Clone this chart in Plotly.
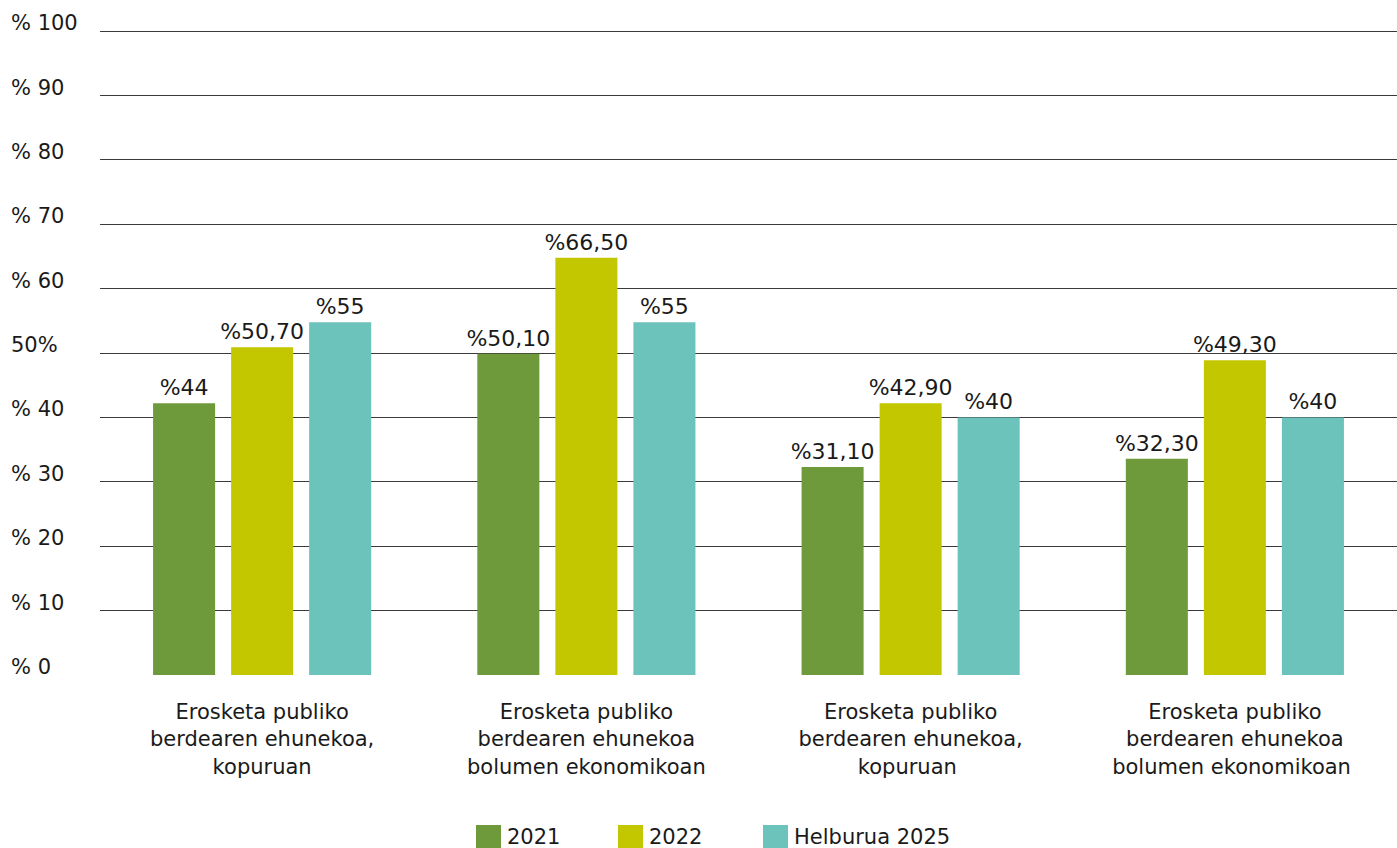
import plotly.graph_objects as go

# data
categories = [
    "Erosketa publiko<br>berdearen ehunekoa,<br>kopuruan",
    "Erosketa publiko<br>berdearen ehunekoa<br>bolumen ekonomikoan",
    "Erosketa publiko<br>berdearen ehunekoa,<br>kopuruan ",
    "Erosketa publiko<br>berdearen ehunekoa<br>bolumen ekonomikoan ",
]
series_names = ["2021", "2022", "Helburua 2025"]
values_2021 = [42.2, 49.9, 32.3, 33.6]
values_2022 = [50.9, 64.8, 42.2, 48.9]
values_2025 = [54.8, 54.8, 40.0, 40.0]
labels_2021 = ["%44", "%50,10", "%31,10", "%32,30"]
labels_2022 = ["%50,70", "%66,50", "%42,90", "%49,30"]
labels_2025 = ["%55", "%55", "%40", "%40"]
y_ticks = [0, 10, 20, 30, 40, 50, 60, 70, 80, 90, 100]
y_ticktext = ["% 0", "% 10", "% 20", "% 30", "% 40", "50%", "% 60", "% 70", "% 80", "% 90", "% 100"]

colors = ["#6f9a3b", "#c3c700", "#6cc3bb"]
FONT = "DejaVu Sans"
TXT = "#1a1a1a"

W, H = 1397, 848
L, R, B = 100, 0, 173
PX_PER_UNIT = 6.44
Y_TOP = 100.5  # a bit above 100 so the top gridline is drawn
T = round(H - B - Y_TOP * PX_PER_UNIT)
PW, PH = W - L - R, H - T - B


def px_x(p):
    return (p - L) / PW


def px_y(p):
    return (H - B - p) / PH


fig = go.Figure()
for name, vals, labs, col in zip(series_names,
                                 [values_2021, values_2022, values_2025],
                                 [labels_2021, labels_2022, labels_2025],
                                 colors):
    fig.add_trace(go.Bar(
        name=name, x=categories, y=vals, text=labs,
        textposition="outside", constraintext="none", cliponaxis=False,
        textfont=dict(family=FONT, size=22, color=TXT),
        marker=dict(color=col, line=dict(width=0)),
        showlegend=False, hoverinfo="skip",
    ))

# y tick labels, left aligned like the original
annotations = []
for v, t in zip(y_ticks, y_ticktext):
    annotations.append(dict(
        x=px_x(9), xref="paper", y=v, yref="y", text=t, showarrow=False,
        xanchor="left", yanchor="bottom", yshift=-6,
        font=dict(family=FONT, size=21, color=TXT),
    ))

# legend drawn by hand (large square swatches)
shapes = []
legend_left = [476, 618, 763]
for x0, name, col in zip(legend_left, series_names, colors):
    shapes.append(dict(type="rect", xref="paper", yref="paper",
                       x0=px_x(x0), x1=px_x(x0 + 25), y0=px_y(825), y1=px_y(855),
                       fillcolor=col, line=dict(width=0)))
    annotations.append(dict(
        x=px_x(x0 + 29), xref="paper", y=px_y(837), yref="paper", text=name,
        showarrow=False, xanchor="left", yanchor="middle",
        font=dict(family=FONT, size=21, color=TXT),
    ))

fig.update_layout(
    width=W, height=H,
    margin=dict(l=L, r=R, t=T, b=B, pad=0),
    paper_bgcolor="white", plot_bgcolor="white",
    barmode="group", bargap=0.278, bargroupgap=0.205,
    font=dict(family=FONT, size=21, color=TXT),
    showlegend=False,
    annotations=annotations, shapes=shapes,
    xaxis=dict(showgrid=False, zeroline=False, showline=False, ticks="",
               ticklabelstandoff=22, automargin=False,
               tickfont=dict(family=FONT, size=21, color=TXT)),
    yaxis=dict(range=[0, Y_TOP], tickvals=y_ticks, showticklabels=False,
               showgrid=True, gridcolor="#3a3a3a", gridwidth=1.2,
               zeroline=False, showline=False, ticks="", automargin=False),
)

fig.write_html(
    "out.html",
    config={"displayModeBar": False},
    post_script="document.body.style.margin='0';document.body.style.overflow='hidden';",
)
